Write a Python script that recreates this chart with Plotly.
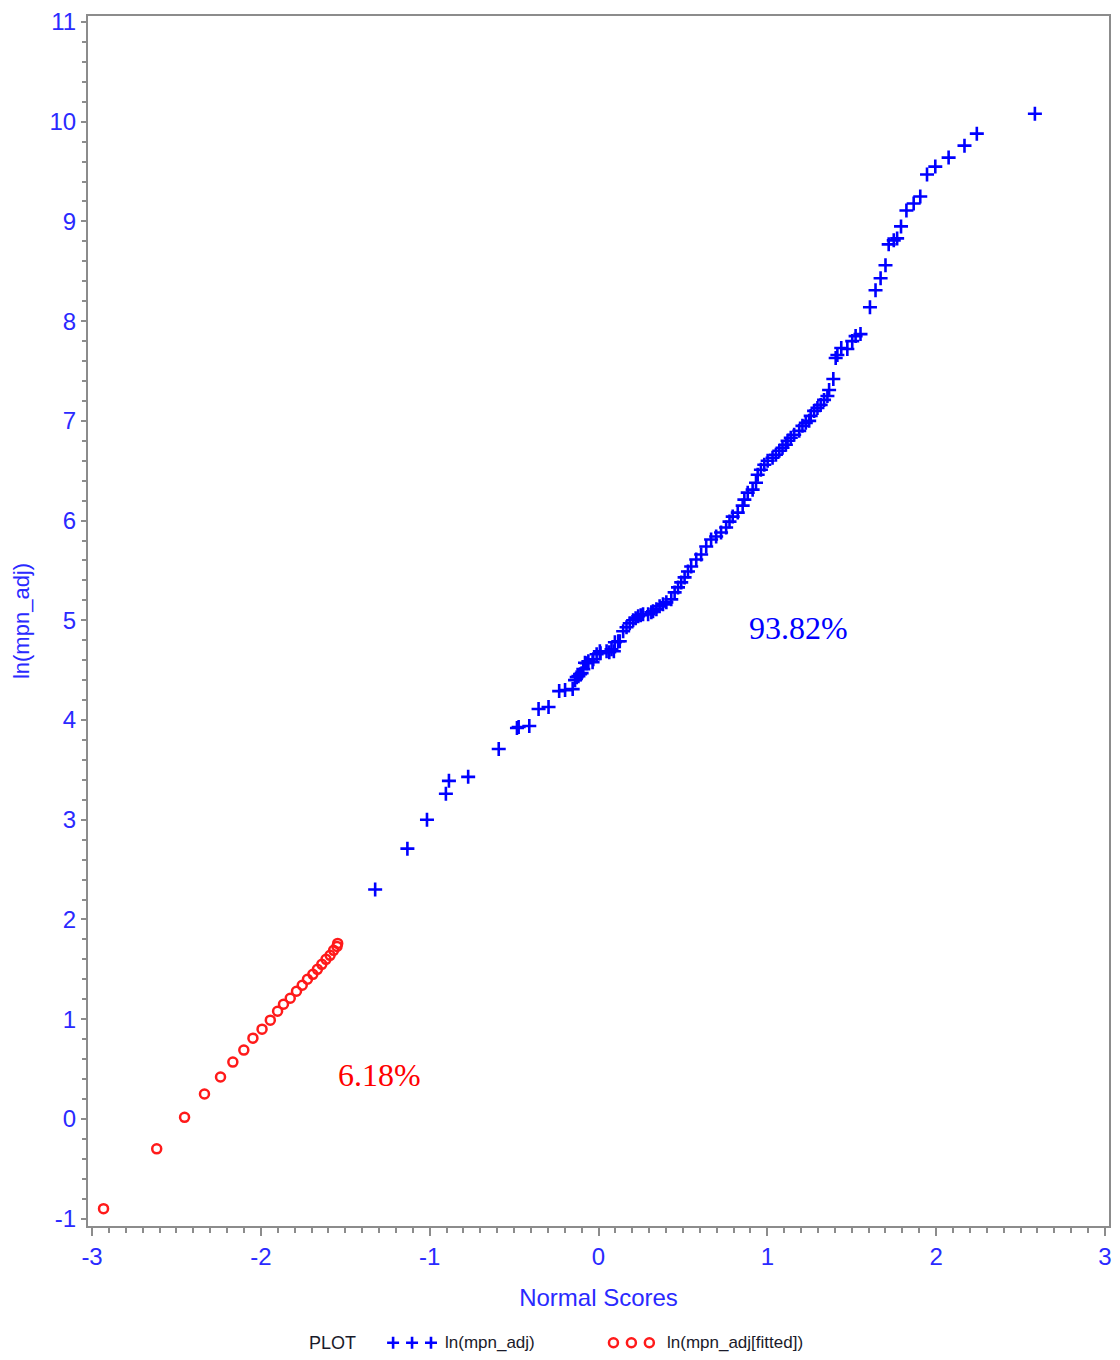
import plotly.graph_objects as go

# Normal scores and log-transformed MPN values (observed)
obs_score = [
    -1.323, -1.132, -1.016, -0.904, -0.886, -0.772, -0.591, -0.483, -0.473, -0.410,
    -0.355, -0.296, -0.233, -0.198, -0.153, -0.139, -0.129, -0.119, -0.109, -0.100,
    -0.090, -0.080, -0.070, -0.060, -0.035, -0.031, -0.011, 0.008, 0.012, 0.048,
    0.064, 0.077, 0.091, 0.097, 0.117, 0.126, 0.146, 0.166, 0.185, 0.205,
    0.220, 0.235, 0.250, 0.264, 0.294, 0.313, 0.323, 0.343, 0.362, 0.382,
    0.402, 0.431, 0.451, 0.471, 0.490, 0.510, 0.530, 0.549, 0.579, 0.608,
    0.638, 0.667, 0.697, 0.726, 0.756, 0.776, 0.795, 0.825, 0.854, 0.864,
    0.884, 0.913, 0.933, 0.943, 0.962, 0.982, 1.002, 1.031, 1.051, 1.071,
    1.090, 1.110, 1.120, 1.139, 1.159, 1.189, 1.208, 1.228, 1.248, 1.257,
    1.277, 1.297, 1.316, 1.336, 1.356, 1.366, 1.391, 1.405, 1.415, 1.438,
    1.474, 1.503, 1.523, 1.552, 1.608, 1.641, 1.671, 1.700, 1.719, 1.749,
    1.769, 1.792, 1.824, 1.867, 1.906, 1.946, 1.995, 2.074, 2.168, 2.241,
    2.585,
]
obs_ln = [
    2.30, 2.71, 3.00, 3.26, 3.39, 3.43, 3.71, 3.92, 3.93, 3.94,
    4.11, 4.13, 4.29, 4.30, 4.31, 4.40, 4.43, 4.44, 4.46, 4.47,
    4.51, 4.575, 4.57, 4.59, 4.58, 4.61, 4.66, 4.69, 4.67, 4.69,
    4.68, 4.71, 4.69, 4.78, 4.79, 4.79, 4.89, 4.93, 4.97, 5.00,
    5.02, 5.04, 5.05, 5.06, 5.06, 5.08, 5.09, 5.11, 5.14, 5.16,
    5.18, 5.21, 5.28, 5.33, 5.38, 5.43, 5.49, 5.54, 5.61, 5.66,
    5.74, 5.81, 5.84, 5.88, 5.93, 5.99, 6.04, 6.08, 6.15, 6.21,
    6.28, 6.31, 6.38, 6.46, 6.51, 6.56, 6.60, 6.63, 6.66, 6.70,
    6.73, 6.76, 6.80, 6.83, 6.86, 6.90, 6.95, 6.98, 7.00, 7.05,
    7.10, 7.13, 7.16, 7.21, 7.25, 7.31, 7.42, 7.63, 7.66, 7.73,
    7.72, 7.80, 7.85, 7.87, 8.14, 8.31, 8.43, 8.56, 8.77, 8.81,
    8.83, 8.95, 9.11, 9.18, 9.25, 9.47, 9.55, 9.64, 9.76, 9.88,
    10.08,
]

# Normal scores and fitted values for the lower tail
fit_score = [
    -2.932, -2.617, -2.452, -2.334, -2.239, -2.166, -2.101, -2.047, -1.993, -1.944,
    -1.901, -1.866, -1.826, -1.789, -1.755, -1.724, -1.692, -1.665, -1.639, -1.614,
    -1.590, -1.569, -1.549, -1.545,
]
fit_ln = [
    -0.90, -0.30, 0.016, 0.25, 0.42, 0.57, 0.69, 0.81, 0.90, 0.99,
    1.08, 1.15, 1.21, 1.28, 1.34, 1.40, 1.45, 1.50, 1.55, 1.60,
    1.64, 1.69, 1.73, 1.76,
]

obs_label = "ln(mpn_adj)"
fit_label = "ln(mpn_adj[fitted])"
obs_share = "93.82%"
fit_share = "6.18%"

x_ticks = [-3, -2, -1, 0, 1, 2, 3]
y_ticks = list(range(-1, 12))

BLUE = "#0000ff"
RED = "#ff1a1a"
AXIS_TEXT = "#2a2aff"
GRAY = "#8c8c8c"
SANS = "Liberation Sans, Arial, sans-serif"
SERIF = "Liberation Serif, Times New Roman, serif"

fig = go.Figure()
fig.add_trace(go.Scatter(
    x=obs_score, y=obs_ln, mode="markers", name=obs_label, showlegend=False,
    marker=dict(symbol="cross-thin-open", size=10, color=BLUE,
                line=dict(color=BLUE, width=2.6)),
))
fig.add_trace(go.Scatter(
    x=fit_score, y=fit_ln, mode="markers", name=fit_label, showlegend=False,
    marker=dict(symbol="circle-open", size=9, color=RED,
                line=dict(color=RED, width=2.5)),
))

# Share labels next to each group
fig.add_annotation(x=1.185, y=4.92, text=obs_share, showarrow=False,
                   font=dict(family=SERIF, size=32, color=BLUE))
fig.add_annotation(x=-1.30, y=0.445, text=fit_share, showarrow=False,
                   font=dict(family=SERIF, size=32, color="#ff0000"))

# Legend row under the axis
plot_l, plot_r, plot_t, plot_b = 88, 1112, 14, 1226
W, H = 1120, 1360


def px_to_paper(px, py):
    return (px - plot_l) / (plot_r - plot_l), (plot_b - py) / (plot_b - plot_t)


leg_y_px = 1343
_, leg_y = px_to_paper(0, leg_y_px)
fig.add_annotation(x=px_to_paper(333, 0)[0], y=leg_y, xref="paper", yref="paper",
                   text="PLOT", showarrow=False, xanchor="center", yanchor="middle",
                   font=dict(family=SANS, size=18, color="#1a1a2a"))
fig.add_annotation(x=px_to_paper(444, 0)[0], y=leg_y, xref="paper", yref="paper",
                   text=obs_label, showarrow=False, xanchor="left", yanchor="middle",
                   font=dict(family=SANS, size=17, color="#1a1a2a"))
fig.add_annotation(x=px_to_paper(667, 0)[0], y=leg_y, xref="paper", yref="paper",
                   text=fit_label, showarrow=False, xanchor="left", yanchor="middle",
                   font=dict(family=SANS, size=17, color="#1a1a2a"))

for gx in (394, 413, 432):
    ax, _ = px_to_paper(gx, 0)
    fig.add_shape(type="path", xref="paper", yref="paper",
                  xsizemode="pixel", ysizemode="pixel", xanchor=ax, yanchor=leg_y,
                  path="M -6,0 L 6,0 M 0,-6 L 0,6",
                  line=dict(color=BLUE, width=2.6))
for gx in (615, 633, 651):
    ax, _ = px_to_paper(gx, 0)
    fig.add_shape(type="circle", xref="paper", yref="paper",
                  xsizemode="pixel", ysizemode="pixel", xanchor=ax, yanchor=leg_y,
                  x0=-4.5, x1=4.5, y0=-4.5, y1=4.5,
                  line=dict(color=RED, width=2.5))

fig.update_xaxes(
    range=[-3.024, 3.024], tickvals=x_ticks, ticktext=[str(v) for v in x_ticks],
    showgrid=False, zeroline=False,
    showline=True, linecolor=GRAY, linewidth=2, mirror=True,
    ticks="outside", ticklen=8, tickwidth=2, tickcolor=GRAY,
    minor=dict(dtick=0.1, ticks="outside", ticklen=5, tickwidth=2, tickcolor=GRAY,
               showgrid=False),
    tickfont=dict(family=SANS, size=24, color=AXIS_TEXT),
    title=dict(text="Normal Scores", standoff=20,
               font=dict(family=SANS, size=24, color=AXIS_TEXT)),
)
fig.update_yaxes(
    range=[-1.074, 11.06], tickvals=y_ticks, ticktext=[str(v) for v in y_ticks],
    showgrid=False, zeroline=False,
    showline=True, linecolor=GRAY, linewidth=2, mirror=True,
    ticks="outside", ticklen=5, tickwidth=2, tickcolor=GRAY,
    minor=dict(dtick=0.2, ticks="outside", ticklen=4, tickwidth=2, tickcolor=GRAY,
               showgrid=False),
    tickfont=dict(family=SANS, size=24, color=AXIS_TEXT),
    title=dict(text="ln(mpn_adj)", standoff=14,
               font=dict(family=SANS, size=22, color=AXIS_TEXT)),
)

fig.update_layout(
    width=W, height=H,
    margin=dict(l=plot_l, r=W - plot_r, t=plot_t, b=H - plot_b),
    plot_bgcolor="white", paper_bgcolor="white",
    showlegend=False,
)

fig.write_html("out.html")
